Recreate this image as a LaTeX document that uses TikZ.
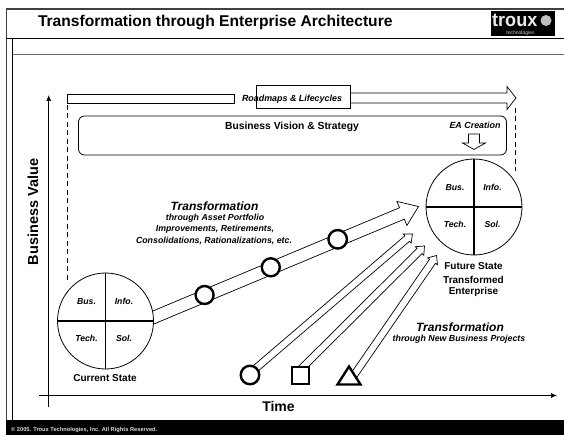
\documentclass[tikz,border=0pt]{standalone}
\usepackage{fontspec}
\setmainfont{Liberation Sans}
\usetikzlibrary{calc,arrows.meta}
\tikzset{
  lbl/.style={font=\fontsize{#1}{#1}\selectfont\bfseries,inner sep=0pt,align=center},
  ilbl/.style={font=\fontsize{#1}{#1}\selectfont\bfseries\itshape,inner sep=0pt,align=center},
  quad/.style={ilbl=8.7},
  state/.style={draw,circle,fill=white,line width=.8pt,minimum size=96pt,inner sep=0pt},
  marker/.style={draw,line width=2.4pt,fill=white,inner sep=0pt},
  axisline/.style={line width=.7pt,-{Latex[length=6pt,width=5pt]}},
  blockline/.style={draw,line width=.7pt,fill=white,line join=miter},
}
% #1 from, #2 to, #3 half shaft, #4 head length, #5 half head
\newcommand{\blockarrow}[5]{%
  \coordinate (hb) at ($(#2)!#4pt!(#1)$);
  \draw[blockline]
    ($(#1)!#3pt!90:(#2)$) --
    ($(hb)!#3pt!90:(#2)$) --
    ($(hb)!#5pt!90:(#2)$) --
    (#2) --
    ($(hb)!#5pt!-90:(#2)$) --
    ($(hb)!#3pt!-90:(#2)$) --
    ($(#1)!#3pt!-90:(#2)$) -- cycle;}
\newcommand{\quadstate}[2]{%
  \node[state] (#1) at (#2) {};
  \draw[line width=1.3pt] (#1.north) -- (#1.south) (#1.west) -- (#1.east);
  \node[quad] (#1b) at ($(#1)+(-19,-19.5)$) {Bus.};
  \node[quad] (#1i) at ($(#1)+(18.5,-19.5)$) {Info.};
  \node[quad] (#1t) at ($(#1)+(-19,17.5)$) {Tech.};
  \node[quad] (#1s) at ($(#1)+(18.5,17.5)$) {Sol.};}
\begin{document}
\begin{tikzpicture}[x=1pt,y=-1pt]
\useasboundingbox (0,0) rectangle (564,435);
\fill[white] (0,0) rectangle (564,435);
% frame
\draw[line width=1.4pt,black!75] (564,9) -- (6.3,9) -- (6.3,420);
\draw[line width=.8pt] (6.3,38) -- (564,38);
\draw[line width=.8pt] (12.8,38) -- (12.8,420);
\draw[line width=1.3pt,black!60] (12.8,54.5) -- (564,54.5);
\fill[black] (6,420) rectangle (564,435);
\node[lbl=15.6,anchor=west] (title) at (37.8,23) {Transformation through Enterprise Architecture};
\node[anchor=west,text=white!85!black,lbl=5.7] (copy) at (11,430) {© 2005. Troux Technologies, Inc. All Rights Reserved.};
% logo
\fill[black] (491,11) rectangle (555,36);
\node[lbl=19,text=white!92!black,anchor=west,xscale=.95] (logo) at (492,20) {troux};
\fill[white!75!black] (546,20.5) circle (5.5pt);
\node[text=white!80!black,font=\fontsize{5}{5}\selectfont,inner sep=0pt] (logob) at (520.5,33) {technologies};
% axes
\coordinate (yo) at (48.7,407); \coordinate (yt) at (48.7,95);
\coordinate (xo) at (39,395.5); \coordinate (xt) at (557,395.5);
\draw[axisline] (yo) -- (yt);
\draw[axisline] (xo) -- (xt);
\node[lbl=14.5,rotate=90] (yl) at (33,212) {Business Value};
\node[lbl=14] (xl) at (278.5,406.5) {Time};
% dashes
\coordinate (dl1) at (67.5,105); \coordinate (dl2) at (67.5,282);
\coordinate (dr1) at (515.5,108); \coordinate (dr2) at (515.5,171);
\draw[dashed,line width=.7pt,dash pattern=on 5pt off 3.5pt] (dl1) -- (dl2) (dr1) -- (dr2);
% roadmap
\draw[line width=.8pt] (67.5,94.5) rectangle (234,103.5);
\coordinate (ra) at (345,98); \coordinate (rb) at (516,98);
\blockarrow{ra}{rb}{5}{9}{11.5}
\node[draw,line width=.8pt,fill=white,minimum width=94pt,minimum height=22.5pt,inner sep=0pt] (rbox) at (303,97) {};
\node[ilbl=8.9] (rtext) at (292,99) {Roadmaps \& Lifecycles};
% vision
\node[draw,line width=.8pt,rounded corners=6pt,minimum width=428pt,minimum height=39pt,inner sep=0pt] (vision) at (292.5,135.5) {};
\node[lbl=10.3] (vt) at (292,126.5) {Business Vision \& Strategy};
\node[ilbl=8.9] (ea) at (475,125) {EA Creation};
\coordinate (eaa) at (474,134); \coordinate (eab) at (474,149.5);
\blockarrow{eaa}{eab}{5.5}{6.5}{11.5}
% main arrow
\coordinate (ma) at (145,321); \coordinate (mb) at (418.5,206.5);
\blockarrow{ma}{mb}{6.2}{18}{13}
% states
\quadstate{cur}{105.5,321}
\quadstate{fut}{474,207}
\node[lbl=10] (curl) at (105,378.5) {Current State};
\node[lbl=10] (futl1) at (473.5,266.5) {Future State};
\node[lbl=10] (futl2) at (473.5,279.5) {Transformed};
\node[lbl=10] (futl3) at (473.5,291.5) {Enterprise};
\node[marker,circle,minimum size=18pt] (m1) at (204.6,295) {};
\node[marker,circle,minimum size=18pt] (m2) at (270.8,267.3) {};
\node[marker,circle,minimum size=18.5pt] (m3) at (337.7,239.3) {};
\node[ilbl=12] (t1) at (214.5,206) {Transformation};
\node[ilbl=8.8] (t2) at (215,218) {through Asset Portfolio};
\node[ilbl=8.8] (t3) at (215,229.5) {Improvements, Retirements,};
\node[ilbl=8.8] (t4) at (214,240.5) {Consolidations, Rationalizations, etc.};
% project arrows
\coordinate (pa) at (255,369); \coordinate (pb) at (412.5,234);
\coordinate (qa) at (300,370); \coordinate (qb) at (424.5,246);
\coordinate (sa) at (352,378); \coordinate (sb) at (436.5,255.5);
\blockarrow{pa}{pb}{3.6}{7}{6}
\blockarrow{qa}{qb}{3.6}{7}{6}
\blockarrow{sa}{sb}{3.6}{7}{6}
\node[marker,circle,minimum size=18.5pt] (sc) at (250,375) {};
\node[marker,minimum size=17.5pt] (sq) at (300.5,375.5) {};
\draw[marker,miter limit=10] (349,366.5) -- (360.5,384.5) -- (337.5,384.5) -- cycle;
\node[ilbl=12] (u1) at (460,327) {Transformation};
\node[ilbl=8.8] (u2) at (459,339) {through New Business Projects};
\end{tikzpicture}
\end{document}
